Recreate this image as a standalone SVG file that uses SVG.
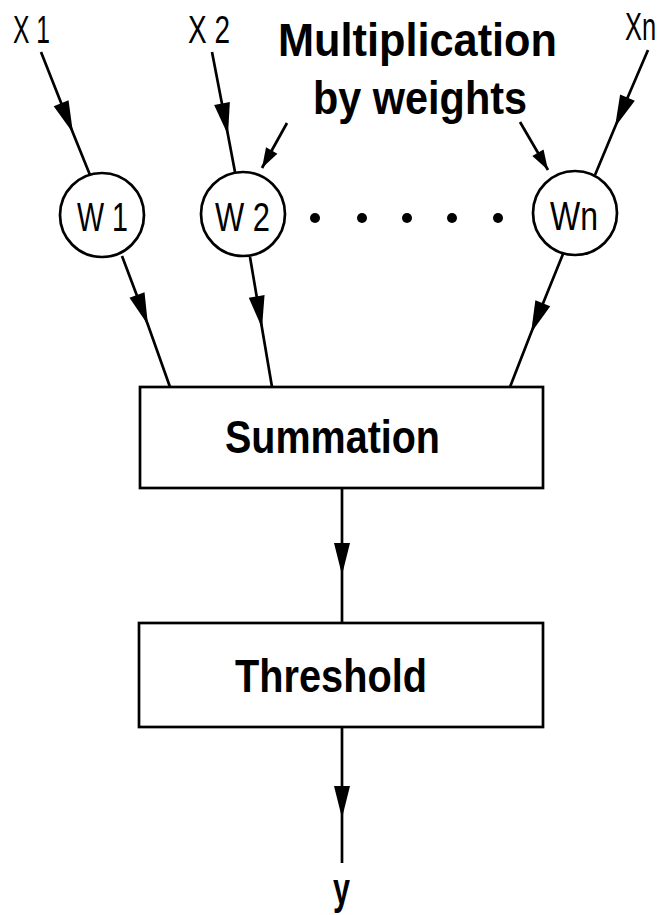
<svg xmlns="http://www.w3.org/2000/svg" width="668" height="915" viewBox="0 0 668 915">
<style>
.ln{fill:none;stroke:#000;stroke-width:2.7}
.nd{fill:#fff;stroke:#000;stroke-width:2.7}
.lb{font-family:"Liberation Sans","DejaVu Sans",sans-serif;fill:#000}
.b{font-weight:bold}
</style>
<defs>
<marker id="ah" markerUnits="userSpaceOnUse" viewBox="-34 -10 36 20" refX="0" refY="0" markerWidth="36" markerHeight="20" orient="auto">
<path d="M0,0 L-32,-8 L-32,8 Z" fill="#000"/>
</marker>
<marker id="ahs" markerUnits="userSpaceOnUse" viewBox="-24 -8 26 16" refX="0" refY="0" markerWidth="26" markerHeight="16" orient="auto">
<path d="M0,0 L-20,-6.5 L-20,6.5 Z" fill="#000"/>
</marker>
</defs>
<rect width="668" height="915" fill="#fff"/>
<g id="connectors">
<path class="ln" d="M41,52 L73,133 L90,175" marker-mid="url(#ah)"/>
<path class="ln" d="M212,52 L228,135 L235,172" marker-mid="url(#ah)"/>
<path class="ln" d="M648,50 L615,127 L595,175" marker-mid="url(#ah)"/>
<path class="ln" d="M287,123 L262,168" marker-end="url(#ahs)"/>
<path class="ln" d="M520,122 L548,170" marker-end="url(#ahs)"/>
<path class="ln" d="M122,256 L148,325 L170,387" marker-mid="url(#ah)"/>
<path class="ln" d="M250,257 L262,328 L272,387" marker-mid="url(#ah)"/>
<path class="ln" d="M563,254 L531,333 L510,387" marker-mid="url(#ah)"/>
<path class="ln" d="M342,488 L342,575 L342,623" marker-mid="url(#ah)"/>
<path class="ln" d="M342,727 L342,818 L342,863" marker-mid="url(#ah)"/>
</g>
<g id="x1"><text class="lb" x="13" y="43" font-size="38" textLength="37" lengthAdjust="spacingAndGlyphs">X 1</text></g>
<g id="x2"><text class="lb" x="188" y="43" font-size="38" textLength="42" lengthAdjust="spacingAndGlyphs">X 2</text></g>
<g id="xn"><text class="lb" transform="translate(625,40) scale(0.67,1)" x="0" y="0" font-size="38">Xn</text></g>
<g id="label"><text class="lb b" x="278" y="56" font-size="47" textLength="279" lengthAdjust="spacingAndGlyphs">Multiplication</text>
<text class="lb b" x="313" y="114" font-size="47" textLength="214" lengthAdjust="spacingAndGlyphs">by weights</text></g>
<g id="w1"><circle class="nd" cx="102" cy="215" r="42"/><text class="lb" x="77" y="231" font-size="40" textLength="51" lengthAdjust="spacingAndGlyphs">W 1</text></g>
<g id="w2"><circle class="nd" cx="243" cy="214" r="42"/><text class="lb" x="215" y="231" font-size="40" textLength="55" lengthAdjust="spacingAndGlyphs">W 2</text></g>
<g id="dots" fill="#000"><circle cx="315" cy="218" r="5"/><circle cx="362" cy="218" r="5"/><circle cx="407" cy="218" r="5"/><circle cx="452" cy="218" r="5"/><circle cx="498" cy="218" r="5"/></g>
<g id="wn"><circle class="nd" cx="575" cy="213" r="42"/><text class="lb" x="550" y="230" font-size="40" textLength="48" lengthAdjust="spacingAndGlyphs">Wn</text></g>
<g id="summation"><rect class="nd" x="140" y="387" width="403" height="101"/><text class="lb b" x="225" y="453" font-size="46" textLength="215" lengthAdjust="spacingAndGlyphs">Summation</text></g>
<g id="threshold"><rect class="nd" x="139" y="623" width="404" height="104"/><text class="lb b" x="235" y="692" font-size="47" textLength="192" lengthAdjust="spacingAndGlyphs">Threshold</text></g>
<g id="y"><text class="lb b" x="333" y="904" font-size="44" textLength="17" lengthAdjust="spacingAndGlyphs">y</text></g>
</svg>
